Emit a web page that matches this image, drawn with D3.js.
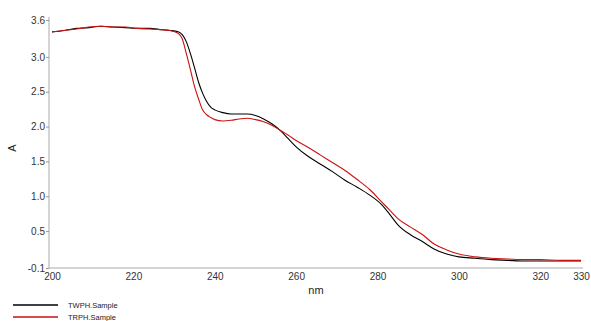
<!DOCTYPE html>
<html>
<head>
<meta charset="utf-8">
<script src="https://cdn.jsdelivr.net/npm/d3@7"></script>
<style>
  body { margin: 0; background: #fff; }
  text { font-family: "Liberation Sans", Arial, sans-serif; }
</style>
</head>
<body>
<script>
const WIDTH = 591;
const HEIGHT = 321;

// wavelengths (nm) where the curves were read
const nm = [200, 203, 206, 209, 212, 215, 218, 221, 224, 227, 229, 231, 232, 233, 234, 235, 236, 237, 238, 239,
            240, 242, 244, 246, 248, 250, 252, 254, 256, 258, 260, 263, 266, 269, 272, 275, 278, 281, 283, 285,
            288, 291, 294, 297, 300, 304, 308, 312, 316, 320, 325, 330];

const twph = [3.36, 3.38, 3.41, 3.42, 3.44, 3.43, 3.42, 3.41, 3.41, 3.39, 3.38, 3.36, 3.32, 3.22, 3.05, 2.85, 2.64, 2.48, 2.36, 2.28,
              2.24, 2.20, 2.18, 2.18, 2.18, 2.16, 2.11, 2.04, 1.95, 1.83, 1.71, 1.57, 1.46, 1.35, 1.23, 1.13, 1.02, 0.88, 0.74, 0.59,
              0.45, 0.35, 0.24, 0.17, 0.13, 0.11, 0.09, 0.08, 0.07, 0.07, 0.07, 0.07];

const trph = [3.36, 3.38, 3.40, 3.43, 3.44, 3.43, 3.43, 3.41, 3.40, 3.39, 3.38, 3.34, 3.26, 3.05, 2.82, 2.58, 2.40, 2.24, 2.17, 2.13,
              2.10, 2.08, 2.09, 2.11, 2.12, 2.10, 2.07, 2.02, 1.95, 1.88, 1.80, 1.70, 1.59, 1.48, 1.37, 1.24, 1.10, 0.92, 0.80, 0.68,
              0.56, 0.45, 0.31, 0.23, 0.17, 0.13, 0.11, 0.10, 0.09, 0.09, 0.08, 0.08];

const seriesNames = ["TWPH.Sample", "TRPH.Sample"];
const seriesColors = ["#000000", "#cc1111"];

const xTicks = [200, 220, 240, 260, 280, 300, 320, 330];
const yTicks = [-0.1, 0.5, 1.0, 1.5, 2.0, 2.5, 3.0, 3.6];

var svg = d3.select("body").append("svg").attr("width", WIDTH).attr("height", HEIGHT);

var x = d3.scaleLinear().domain([200, 330]).range([52, 581]);
// end labels sit at the axis ends, like the instrument software draws them
var y = d3.scaleLinear().domain([-0.03, 3.53]).range([268, 20]).clamp(true);

// y axis
var yAxis = svg.append("g")
  .attr("transform", "translate(49,0)")
  .call(d3.axisLeft(y).tickValues(yTicks).tickSize(3).tickPadding(1)
    .tickFormat(function(d) { return d.toFixed(1); }));
yAxis.select(".domain").attr("stroke", "#aaa").attr("d", "M0,17V268");
yAxis.selectAll(".tick line").attr("stroke", "#999");
yAxis.selectAll(".tick text").attr("fill", "#333").style("font-size", "10px");

// x axis
var xAxis = svg.append("g")
  .attr("transform", "translate(0,268)")
  .call(d3.axisBottom(x).tickValues(xTicks).tickSize(0).tickPadding(5)
    .tickFormat(d3.format("d")));
xAxis.select(".domain").attr("stroke", "#aaa").attr("d", "M49,0H583");
xAxis.selectAll(".tick text").attr("fill", "#333").style("font-size", "10px");

svg.append("text")
  .attr("x", 316).attr("y", 294)
  .attr("text-anchor", "middle")
  .attr("fill", "#222").style("font-size", "11px")
  .text("nm");

svg.append("text")
  .attr("transform", "translate(16,148) rotate(-90)")
  .attr("text-anchor", "middle")
  .attr("fill", "#222").style("font-size", "11px")
  .text("A");

// curves
var line = d3.line()
  .x(function(d) { return x(d[0]); })
  .y(function(d) { return y(d[1]); })
  .curve(d3.curveMonotoneX);

[twph, trph].forEach(function(vals, i) {
  svg.append("path")
    .datum(nm.map(function(n, j) { return [n, vals[j]]; }))
    .attr("fill", "none")
    .attr("stroke", seriesColors[i])
    .attr("stroke-width", 1.1)
    .attr("d", line);
});

// legend
var legend = svg.append("g").selectAll("g").data(seriesNames).enter().append("g")
  .attr("transform", function(d, i) { return "translate(0," + (305 + i * 12) + ")"; });
legend.append("line")
  .attr("x1", 13).attr("x2", 58)
  .attr("stroke", function(d, i) { return seriesColors[i]; })
  .attr("stroke-width", 1.3);
legend.append("text")
  .attr("x", 68).attr("dy", "0.35em")
  .attr("fill", "#222").style("font-size", "7.5px")
  .text(function(d) { return d; });
</script>
</body>
</html>
